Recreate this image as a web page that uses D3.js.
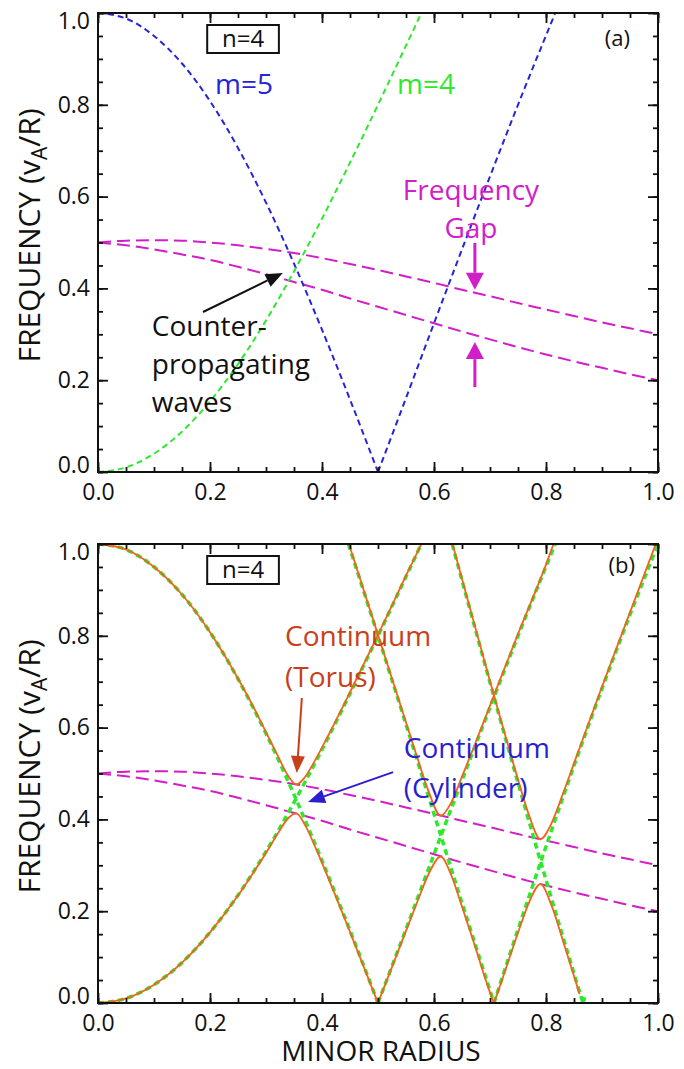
<!DOCTYPE html>
<html>
<head>
<meta charset="utf-8">
<script src="https://cdn.jsdelivr.net/npm/d3@7"></script>
<style>
body { margin: 0; background: #fff; }
svg text { font-family: "Open Sans", "Noto Sans", sans-serif; fill: #111; }
</style>
</head>
<body>
<div id="chart"></div>
<script>
// cylinder continuum branches, n=4  (minor radius -> frequency in vA/R)
var m4R = [0, 0.05, 0.1, 0.15, 0.2, 0.25, 0.3, 0.35, 0.4, 0.45, 0.5, 0.55, 0.5774];
var m4F = [0, 0.010, 0.040, 0.088, 0.154, 0.235, 0.330, 0.437, 0.552, 0.674, 0.800, 0.929, 1.0];
var m5R = [0, 0.05, 0.1, 0.15, 0.2, 0.25, 0.3, 0.35, 0.4, 0.45, 0.5, 0.55, 0.6, 0.65, 0.7, 0.75, 0.8, 0.8165];
var m5F = [1.0, 0.988, 0.950, 0.890, 0.808, 0.706, 0.587, 0.454, 0.310, 0.158, 0, 0.161, 0.324, 0.485, 0.644, 0.800, 0.951, 1.0];
var m6R = [0.4472, 0.5, 0.55, 0.6, 0.65, 0.7, 0.7071, 0.75, 0.8, 0.85, 0.9, 0.95, 1.0];
var m6F = [1.0, 0.800, 0.607, 0.412, 0.218, 0.027, 0, 0.160, 0.341, 0.517, 0.685, 0.846, 1.0];
var m7R = [0.6325, 0.65, 0.7, 0.75, 0.8, 0.85, 0.866, 0.87];
var m7F = [1.0, 0.921, 0.698, 0.480, 0.268, 0.064, 0, 0.016];

// frequency gap boundaries
var gapR = [0, 0.05, 0.1, 0.15, 0.2, 0.25, 0.3, 0.35, 0.4, 0.45, 0.5, 0.55, 0.6, 0.65, 0.7, 0.75, 0.8, 0.85, 0.9, 0.95, 1.0];
var gapUpper = [0.5, 0.504, 0.505, 0.504, 0.500, 0.494, 0.486, 0.477, 0.466, 0.453, 0.440, 0.426, 0.412, 0.397, 0.383, 0.368, 0.354, 0.340, 0.326, 0.313, 0.3];
var gapLower = [0.5, 0.494, 0.485, 0.474, 0.462, 0.447, 0.431, 0.414, 0.397, 0.378, 0.360, 0.342, 0.324, 0.306, 0.289, 0.272, 0.256, 0.241, 0.227, 0.213, 0.2];

// torus continuum (gaps open at the crossings)
var torusLowR = [0, 0.05, 0.1, 0.15, 0.2, 0.25, 0.28, 0.3, 0.32, 0.34, 0.354, 0.37, 0.39, 0.41, 0.45, 0.5,
                 0.55, 0.57, 0.59, 0.612, 0.63, 0.65, 0.67, 0.7, 0.7071, 0.72, 0.75, 0.77, 0.79, 0.81, 0.83, 0.85, 0.86];
var torusLowF = [0, 0.010, 0.040, 0.088, 0.154, 0.234, 0.289, 0.327, 0.367, 0.403, 0.413, 0.387, 0.334, 0.276, 0.155, 0,
                 0.157, 0.220, 0.280, 0.319, 0.281, 0.210, 0.136, 0.023, 0, 0.045, 0.153, 0.220, 0.259, 0.212, 0.137, 0.059, 0.019];
var torusUp1R = [0, 0.05, 0.1, 0.15, 0.2, 0.25, 0.28, 0.3, 0.32, 0.34, 0.354, 0.37, 0.39, 0.41, 0.45, 0.5, 0.55, 0.5774];
var torusUp1F = [1.0, 0.988, 0.950, 0.890, 0.808, 0.707, 0.639, 0.590, 0.541, 0.494, 0.476, 0.493, 0.534, 0.580, 0.677, 0.802, 0.931, 1.0];
var torusUp2R = [0.448, 0.5, 0.55, 0.57, 0.59, 0.612, 0.63, 0.65, 0.67, 0.7, 0.75, 0.8, 0.8135];
var torusUp2F = [1.0, 0.802, 0.611, 0.535, 0.462, 0.408, 0.435, 0.493, 0.554, 0.648, 0.804, 0.955, 1.0];
var torusUp3R = [0.633, 0.65, 0.7, 0.72, 0.75, 0.77, 0.79, 0.81, 0.83, 0.85, 0.9, 0.95, 0.996];
var torusUp3F = [1.0, 0.924, 0.701, 0.614, 0.487, 0.408, 0.357, 0.392, 0.455, 0.522, 0.689, 0.851, 1.0];

var xTicks = [0, 0.2, 0.4, 0.6, 0.8, 1.0];
var yTicks = [0, 0.2, 0.4, 0.6, 0.8, 1.0];
var minorTicks = d3.range(0, 21).map(function(i) { return i * 0.05; });

var W = 684, H = 1069;
var left = 98, right = 658;

var colBlue = "#2424dc", colGreen = "#2ee82e", colMag = "#d21ec8", colOrange = "#f0641e";
var colRed = "#c8401a", colBlueTxt = "#2a1ecf";

var svg = d3.select("#chart").append("svg")
    .attr("width", W)
    .attr("height", H);

function zip(rs, fs) {
    return rs.map(function(r, i) { return [r, fs[i]]; });
}

// break a series at interior zeros so the V kinks stay sharp
function splitAtZeros(pts) {
    var pieces = [], cur = [];
    pts.forEach(function(p, i) {
        cur.push(p);
        if (p[1] === 0 && i > 0 && i < pts.length - 1) { pieces.push(cur); cur = [p]; }
    });
    pieces.push(cur);
    return pieces;
}

function arrow(g, x1, y1, x2, y2, color, len, half, sw) {
    var a = Math.atan2(y2 - y1, x2 - x1);
    var bx = x2 - len * Math.cos(a), by = y2 - len * Math.sin(a);
    g.append("line")
        .attr("x1", x1).attr("y1", y1).attr("x2", bx).attr("y2", by)
        .attr("stroke", color).attr("stroke-width", sw);
    g.append("path")
        .attr("d", "M" + x2 + "," + y2 +
            "L" + (bx + half * Math.sin(a)) + "," + (by - half * Math.cos(a)) +
            "L" + (bx - half * Math.sin(a)) + "," + (by + half * Math.cos(a)) + "Z")
        .attr("fill", color);
}

function drawPanel(top, bottom, id) {
    var x = d3.scaleLinear().domain([0, 1]).range([left, right]);
    var y = d3.scaleLinear().domain([0, 1]).range([bottom, top]);
    var g = svg.append("g");

    g.append("clipPath").attr("id", "clip" + id)
      .append("rect").attr("x", left).attr("y", top - 1).attr("width", right - left).attr("height", bottom - top + 2);

    var line = d3.line()
        .x(function(d) { return x(d[0]); })
        .y(function(d) { return y(d[1]); })
        .curve(d3.curveMonotoneX);

    var plot = g.append("g").attr("clip-path", "url(#clip" + id + ")");

    function series(pts, color, width, dash) {
        splitAtZeros(pts).forEach(function(piece) {
            plot.append("path")
                .datum(piece)
                .attr("d", line)
                .attr("fill", "none")
                .attr("stroke", color)
                .attr("stroke-width", width)
                .attr("stroke-dasharray", dash);
        });
    }

    // gap boundaries
    series(zip(gapR, gapUpper), colMag, 2, "13,6");
    series(zip(gapR, gapLower), colMag, 2, "13,6");

    if (id === "a") {
        series(zip(m5R, m5F), colBlue, 2, "6,4");
        series(zip(m4R, m4F), colGreen, 2, "6,4");
    } else {
        [[m4R, m4F], [m5R, m5F], [m6R, m6F], [m7R, m7F]].forEach(function(s) {
            series(zip(s[0], s[1]), colGreen, 3.5, "6,4");
        });
        [[torusLowR, torusLowF], [torusUp1R, torusUp1F], [torusUp2R, torusUp2F], [torusUp3R, torusUp3F]].forEach(function(s) {
            series(zip(s[0], s[1]), colOrange, 1.8, null);
        });
    }

    // axes: ticks point inward on all four sides
    var fmt = d3.format(".1f");
    var xb = g.append("g").attr("transform", "translate(0," + bottom + ")")
        .call(d3.axisBottom(x).tickValues(xTicks).tickSize(-10).tickSizeOuter(0).tickPadding(12).tickFormat(fmt));
    var yl = g.append("g").attr("transform", "translate(" + left + ",0)")
        .call(d3.axisLeft(y).tickValues(yTicks).tickSize(-10).tickSizeOuter(0).tickPadding(8).tickFormat(fmt));
    g.append("g").attr("transform", "translate(0," + top + ")")
        .call(d3.axisTop(x).tickValues(xTicks).tickSize(-10).tickSizeOuter(0).tickFormat(""));
    g.append("g").attr("transform", "translate(" + right + ",0)")
        .call(d3.axisRight(y).tickValues(yTicks).tickSize(-10).tickSizeOuter(0).tickFormat(""));

    // minor ticks
    g.append("g").attr("transform", "translate(0," + bottom + ")")
        .call(d3.axisBottom(x).tickValues(minorTicks).tickSize(-5).tickFormat(""));
    g.append("g").attr("transform", "translate(0," + top + ")")
        .call(d3.axisTop(x).tickValues(minorTicks).tickSize(-5).tickFormat(""));
    g.append("g").attr("transform", "translate(" + left + ",0)")
        .call(d3.axisLeft(y).tickValues(minorTicks).tickSize(-5).tickFormat(""));
    g.append("g").attr("transform", "translate(" + right + ",0)")
        .call(d3.axisRight(y).tickValues(minorTicks).tickSize(-5).tickFormat(""));

    g.selectAll(".domain").remove();
    g.selectAll(".tick line").attr("stroke", "#111").attr("stroke-width", 1.8);
    g.selectAll(".tick text").attr("font-size", 23).attr("fill", "#111")
        .style("font-family", "'Open Sans', sans-serif");
    // end labels pulled inside the frame
    yl.selectAll(".tick text").attr("y", function(d) { return d === 1 ? 8 : (d === 0 ? -7 : 0); });

    g.append("rect")
        .attr("x", left).attr("y", top)
        .attr("width", right - left).attr("height", bottom - top)
        .attr("fill", "none").attr("stroke", "#111").attr("stroke-width", 2);

    // y title
    var yt = g.append("text")
        .attr("transform", "translate(40," + ((top + bottom) / 2 - 7) + ") rotate(-90)")
        .attr("text-anchor", "middle")
        .attr("font-size", 30);
    yt.append("tspan").text("FREQUENCY (v");
    yt.append("tspan").attr("font-size", 21).attr("dy", 7).text("A");
    yt.append("tspan").attr("dy", -7).text("/R)");

    // n=4 box
    g.append("rect")
        .attr("x", x(0.195)).attr("y", top + 12)
        .attr("width", x(0.323) - x(0.195)).attr("height", 28)
        .attr("fill", "#fff").attr("stroke", "#111").attr("stroke-width", 2);
    g.append("text")
        .attr("x", x(0.259)).attr("y", top + 34)
        .attr("text-anchor", "middle").attr("font-size", 24)
        .text("n=4");

    return {g: g, x: x, y: y};
}

// panel (a)
var pa = drawPanel(13, 472, "a");
var ga = pa.g, xa = pa.x, ya = pa.y;

ga.append("text").attr("x", xa(0.95)).attr("y", ya(0.928)).attr("text-anchor", "end").attr("font-size", 22).text("(a)");
ga.append("text").attr("x", xa(0.209)).attr("y", ya(0.824)).attr("font-size", 28).style("fill", colBlue).text("m=5");
ga.append("text").attr("x", xa(0.534)).attr("y", ya(0.824)).attr("font-size", 28).style("fill", colGreen).text("m=4");

ga.append("text").attr("x", xa(0.666)).attr("y", ya(0.593)).attr("text-anchor", "middle").attr("font-size", 28).style("fill", colMag).text("Frequency");
ga.append("text").attr("x", xa(0.666)).attr("y", ya(0.510)).attr("text-anchor", "middle").attr("font-size", 28).style("fill", colMag).text("Gap");
arrow(ga, xa(0.673), ya(0.499), xa(0.673), ya(0.397), colMag, 17, 9, 3);
arrow(ga, xa(0.673), ya(0.185), xa(0.673), ya(0.283), colMag, 17, 9, 3);

["Counter-", "propagating", "waves"].forEach(function(t, i) {
    ga.append("text").attr("x", xa(0.096)).attr("y", ya([0.296, 0.2135, 0.131][i])).attr("font-size", 28).text(t);
});
arrow(ga, xa(0.1875), ya(0.3486), xa(0.330), ya(0.4336), "#111", 17, 7, 2);

// panel (b)
var pb = drawPanel(544, 1003, "b");
var gb = pb.g, xb = pb.x, yb = pb.y;

gb.append("text").attr("x", xb(0.959)).attr("y", yb(0.937)).attr("text-anchor", "end").attr("font-size", 22).text("(b)");

gb.append("text").attr("x", xb(0.334)).attr("y", yb(0.778)).attr("font-size", 28).style("fill", colRed).text("Continuum");
gb.append("text").attr("x", xb(0.334)).attr("y", yb(0.688)).attr("font-size", 28).style("fill", colRed).text("(Torus)");
arrow(gb, xb(0.364), yb(0.6645), xb(0.355), yb(0.501), colRed, 17, 7, 2);

gb.append("text").attr("x", xb(0.546)).attr("y", yb(0.534)).attr("font-size", 28).style("fill", colBlueTxt).text("Continuum");
gb.append("text").attr("x", xb(0.546)).attr("y", yb(0.447)).attr("font-size", 28).style("fill", colBlueTxt).text("(Cylinder)");
arrow(gb, xb(0.527), yb(0.503), xb(0.375), yb(0.438), colBlueTxt, 17, 7, 2);

// x title
svg.append("text")
    .attr("x", 381).attr("y", 1061)
    .attr("text-anchor", "middle").attr("font-size", 28)
    .text("MINOR RADIUS");
</script>
</body>
</html>
